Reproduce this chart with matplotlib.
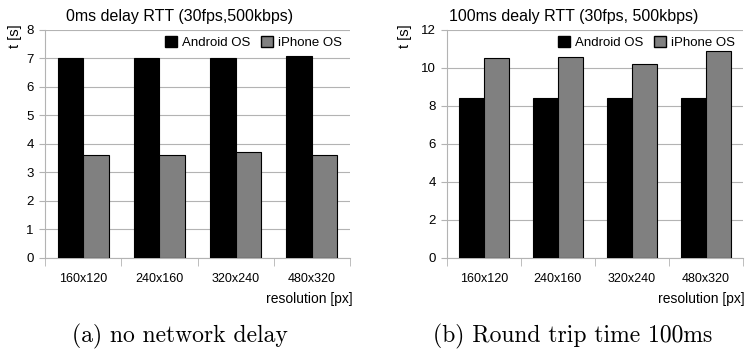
import numpy as np
import matplotlib.pyplot as plt
from matplotlib.patches import Patch

# resolutions on the x axis
resolutions = ['160x120', '240x160', '320x240', '480x320']

# panel (a): no network delay
android_a = [7.0, 7.0, 7.0, 7.1]
iphone_a = [3.6, 3.6, 3.7, 3.6]

# panel (b): 100ms round trip
android_b = [8.4, 8.4, 8.4, 8.4]
iphone_b = [10.5, 10.6, 10.2, 10.9]

plt.rcParams['font.family'] = ['Liberation Sans', 'DejaVu Sans']

fig = plt.figure(figsize=(7.49, 3.49), dpi=100)
ax1 = fig.add_axes([45/749, 1-257.7/349, 305/749, 227.7/349])
ax2 = fig.add_axes([446.7/749, 1-257.7/349, 296.3/749, 227.7/349])

GREY = '#808080'
GRID = '#b3b3b3'

def panel(ax, android, iphone, ymax, ystep, title, title_x, ylab_x):
    x = np.arange(len(resolutions))
    w = 0.335
    ax.bar(x - w/2, android, w, color='black', edgecolor='black', linewidth=0.8, zorder=3)
    ax.bar(x + w/2, iphone, w, color=GREY, edgecolor='black', linewidth=0.8, zorder=3)
    ax.set_xlim(-0.5, len(resolutions) - 0.5)
    ax.set_ylim(0, ymax)
    ax.set_yticks(np.arange(0, ymax + ystep, ystep))
    ax.yaxis.grid(True, color=GRID, linewidth=0.8, zorder=0)
    ax.set_xticks(x)
    ax.set_xticklabels(resolutions, fontsize=9)
    ax.set_xticks(np.arange(-0.5, len(resolutions)), minor=True)
    ax.tick_params(axis='x', which='major', length=0, pad=11)
    ax.tick_params(axis='x', which='minor', length=6, color=GRID)
    ax.tick_params(axis='y', length=4, color=GRID, labelsize=9.5, pad=4)
    for s in ['left', 'bottom']:
        ax.spines[s].set_color(GRID)
    for s in ['top', 'right']:
        ax.spines[s].set_visible(False)
    fig.text(title_x / 749, 1 - 16/349, title, fontsize=11.5,
             ha='center', va='center')
    fig.text(ylab_x / 749, 1 - 24/349, 't [s]', rotation=90,
             fontsize=10.5, ha='center', va='top')
    ax.text(1.007, -0.18, 'resolution [px]', transform=ax.transAxes,
            fontsize=10, ha='right', va='center')
    handles = [Patch(facecolor='black', edgecolor='black', label='Android OS'),
               Patch(facecolor=GREY, edgecolor='black', label='iPhone OS')]
    ax.legend(handles=handles, loc='upper right', ncol=2, frameon=False,
              fontsize=9.5, handlelength=0.9, handleheight=0.9,
              handletextpad=0.4, columnspacing=0.8,
              borderaxespad=0.2, bbox_to_anchor=(1.0, 1.01))

panel(ax1, android_a, iphone_a, 8, 1, '0ms delay RTT (30fps,500kbps)', 180, 15)
panel(ax2, android_b, iphone_b, 12, 2, '100ms dealy RTT (30fps, 500kbps)', 574, 405)

fig.text(180/749, 1-336/349, '(a) no network delay', family='cmr10',
         fontsize=17, ha='center', va='center')
fig.text(573/749, 1-336/349, '(b) Round trip time 100ms', family='cmr10',
         fontsize=17, ha='center', va='center')

fig.savefig('out.png', dpi=100)
